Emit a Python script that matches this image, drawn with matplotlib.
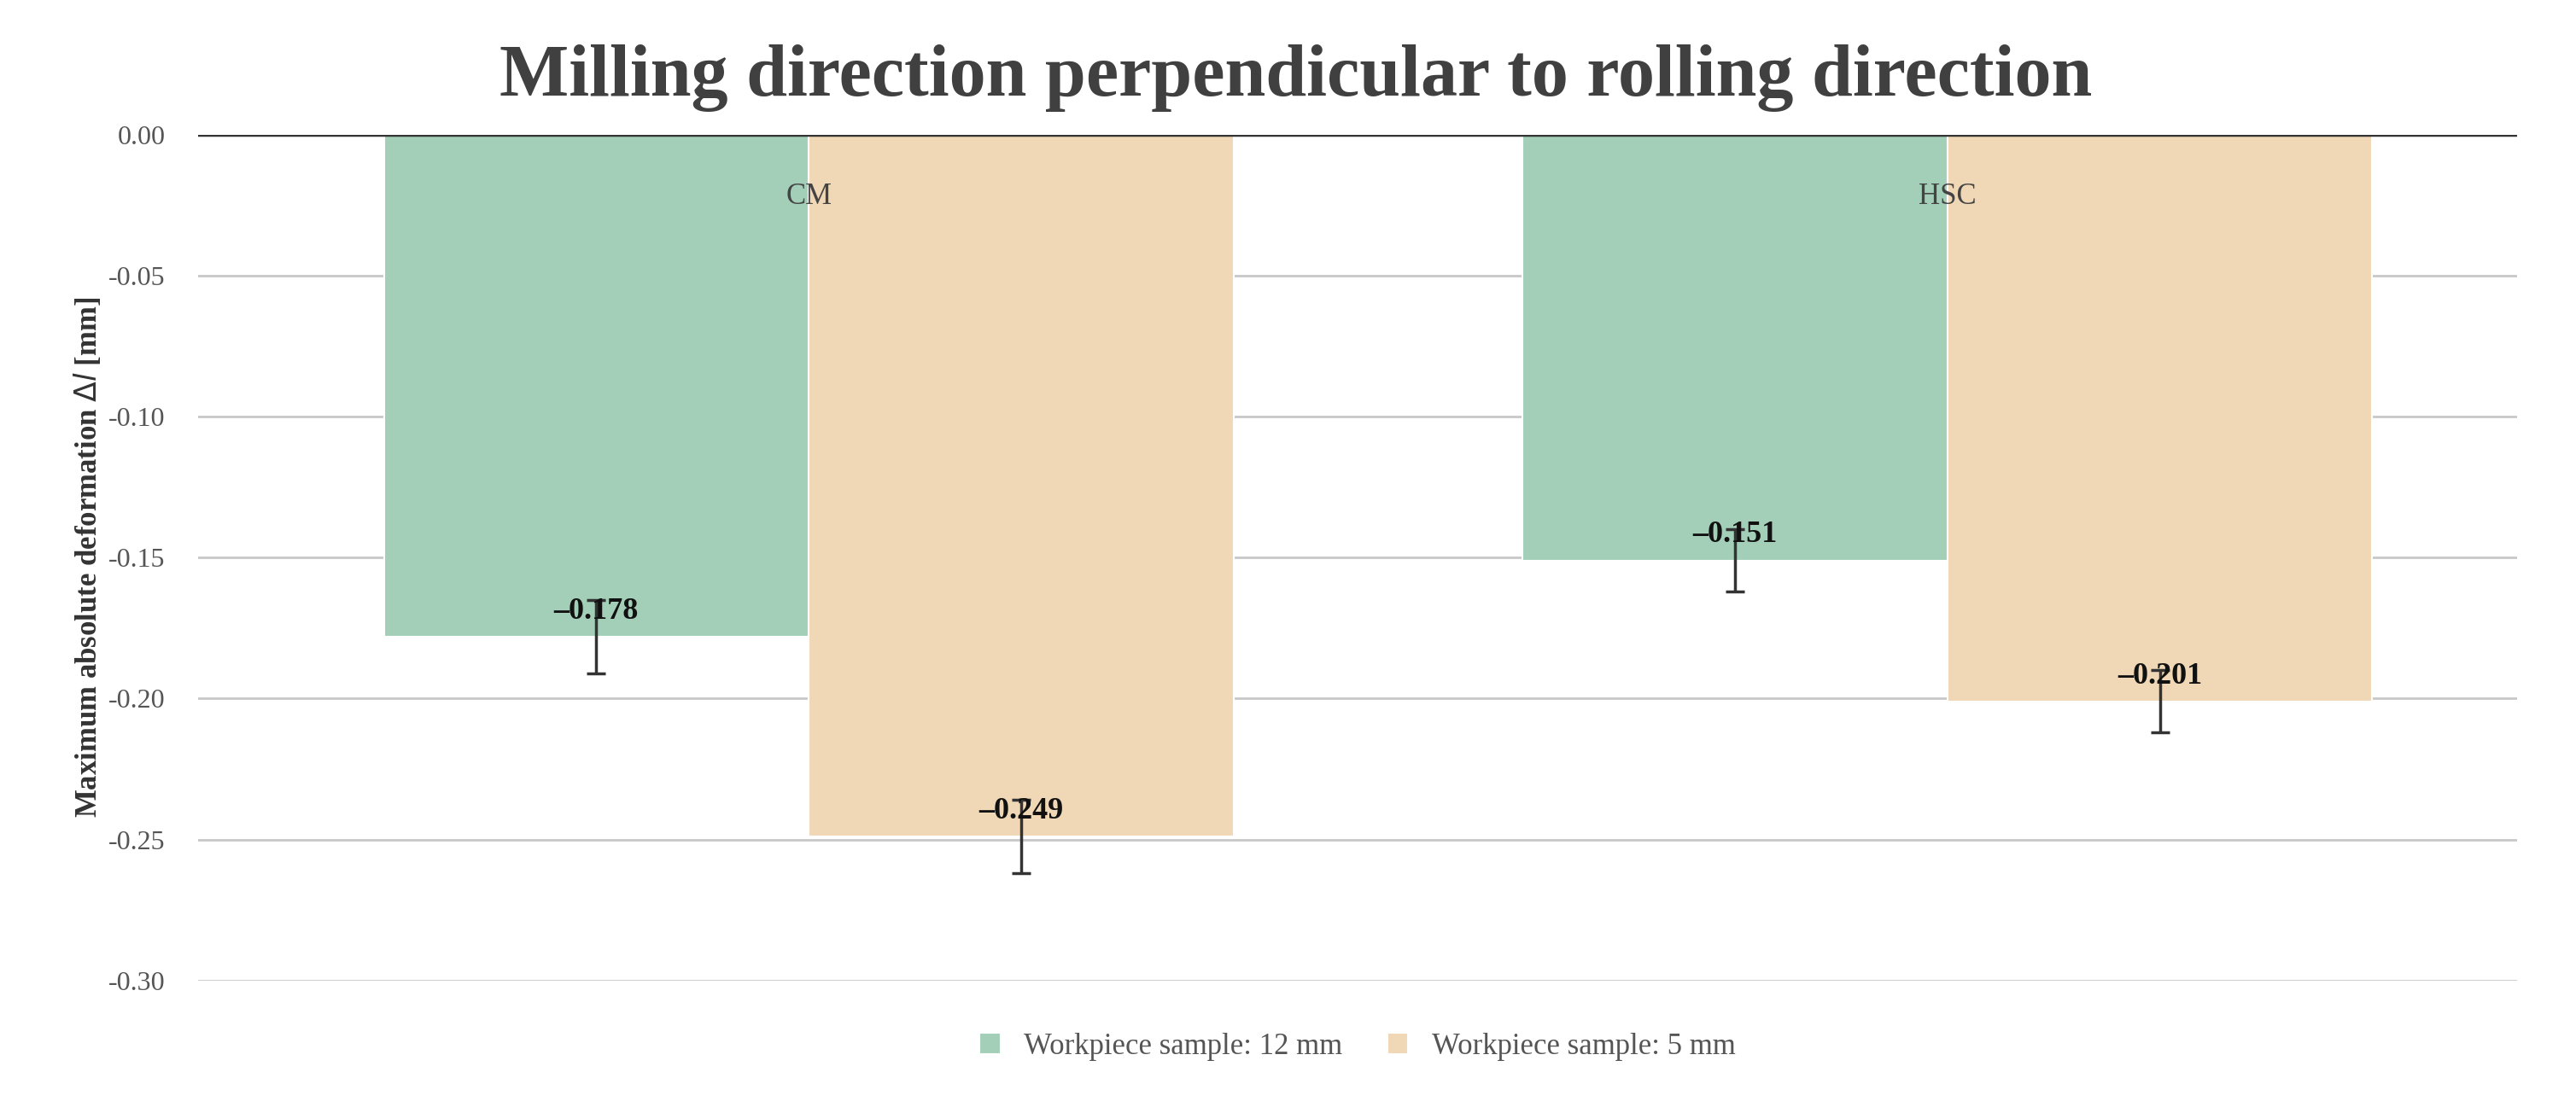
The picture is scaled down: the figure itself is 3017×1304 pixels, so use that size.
import matplotlib
matplotlib.use("Agg")
import matplotlib.pyplot as plt
import numpy as np

groups = ["CM", "HSC"]
series = ["Workpiece sample: 12 mm", "Workpiece sample: 5 mm"]
vals_12 = [-0.178, -0.151]
vals_5 = [-0.249, -0.201]
err_12 = [0.013, 0.011]
err_5 = [0.013, 0.011]
colors = ["#a3cfb8", "#f0d7b5"]

plt.rcParams['font.family'] = ['Liberation Serif', 'DejaVu Serif']
fig = plt.figure(figsize=(30.17, 13.04), dpi=100)
ax = fig.add_axes([0.077, 0.119, 0.9, 0.76])
x = np.arange(len(groups))
w = 0.373
for off, vals, errs, c, lab in [(-w/2, vals_12, err_12, colors[0], series[0]),
                                (w/2, vals_5, err_5, colors[1], series[1])]:
    ax.bar(x + off, vals, w, color=c, label=lab, edgecolor='white', linewidth=1.5, zorder=2)
    ax.errorbar(x + off, vals, yerr=errs, fmt='none', ecolor='#333333', elinewidth=2.5, capsize=8, capthick=2.5, zorder=3)
    for xi, v in zip(x + off, vals):
        ax.text(xi, v + 0.004, f"{v:.3f}".replace('-', '–'), ha='center', va='bottom',
                fontsize=26, fontweight='bold', color='#111111', zorder=4)
for xi, g in zip(x, groups):
    ax.text(xi, -0.022, g, ha='center', va='center', fontsize=25, color='#444444', zorder=4)

ax.set_xlim(-0.536, 1.5)
ax.set_ylim(-0.30, 0.0)
ticks = [-0.30, -0.25, -0.20, -0.15, -0.10, -0.05, 0.0]
ax.set_yticks(ticks)
ax.set_yticklabels(["0.00" if t == 0 else f"{t:.2f}" for t in ticks], fontsize=23, color='#555555')
ax.set_xticks([])
ax.yaxis.grid(True, color='#c8c8c8', linewidth=2, zorder=0)
ax.axhline(0, color='#333333', linewidth=2.5, zorder=5)
for s in ax.spines.values():
    s.set_visible(False)
ax.tick_params(axis='y', length=0, pad=28)
ax.set_ylabel("Maximum absolute deformation $\\mathit{\\Delta l}$ [mm]", fontsize=25,
              fontweight='bold', color='#333333')
fig.text(0.503, 0.93, "Milling direction perpendicular to rolling direction",
         ha='center', va='center', fontsize=62, fontweight='bold', color='#404040')
ax.legend(loc='upper center', bbox_to_anchor=(0.5, -0.03), ncol=2, frameon=False,
          fontsize=25, labelcolor='#555555', handlelength=0.7, handleheight=0.7, columnspacing=1.5)
fig.savefig("out.png", dpi=100, facecolor='white')
